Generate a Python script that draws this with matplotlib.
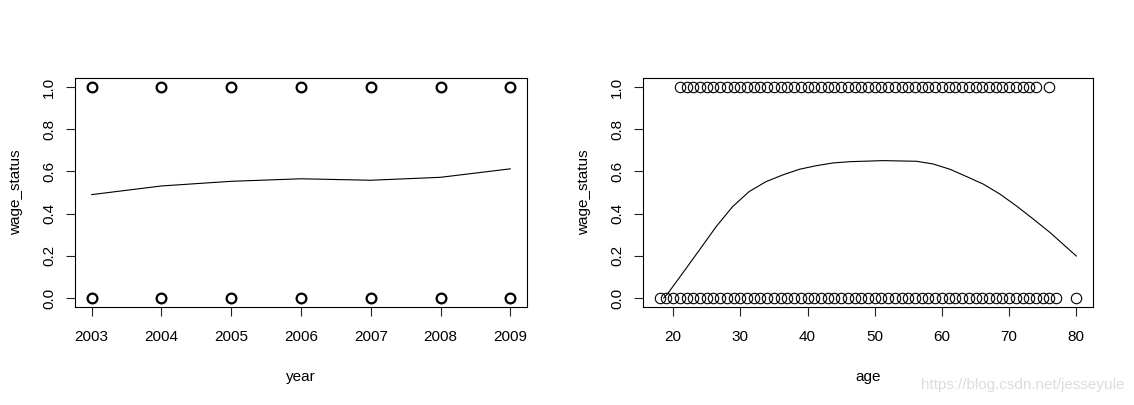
import numpy as np
import matplotlib.pyplot as plt

plt.rcParams['font.family'] = ['Liberation Sans', 'DejaVu Sans']

# left panel: year vs wage_status
years = [2003, 2004, 2005, 2006, 2007, 2008, 2009]
year_fit = [0.490, 0.531, 0.553, 0.565, 0.558, 0.572, 0.612]

# right panel: age vs wage_status
ages_high = list(range(21, 75)) + [76]
ages_low = list(range(18, 78)) + [80]
age_grid = [18.6, 19.15, 21.4, 23.9, 26.4, 28.85, 31.3, 33.8, 36.3, 38.8, 41.3, 43.8, 46.3,
            51.2, 56.2, 58.7, 61.2, 63.7, 66.2, 68.7, 71.1, 73.6, 76.1, 80.0]
age_fit = [0.0, 0.019, 0.117, 0.227, 0.338, 0.433, 0.504, 0.551, 0.583, 0.610, 0.627, 0.640, 0.646,
           0.651, 0.648, 0.635, 0.610, 0.575, 0.539, 0.491, 0.436, 0.374, 0.310, 0.199]

fig = plt.figure(figsize=(11.34, 4.05), dpi=100)
ax1 = fig.add_axes([75/1134, 1-306.5/405, 452/1134, 228/405])
ax2 = fig.add_axes([643/1134, 1-306.5/405, 450/1134, 228/405])

def style(ax):
    for s in ax.spines.values():
        s.set_linewidth(0.8)
    ax.tick_params(length=6.5, width=0.8, labelsize=11, color='#222222')
    ax.tick_params(axis='x', pad=10.5)
    ax.tick_params(axis='y', pad=7, labelrotation=90)
    for t in ax.get_yticklabels():
        t.set_va('center')
    ax.set_ylim(-0.04, 1.04)
    ax.set_yticks([0.0, 0.2, 0.4, 0.6, 0.8, 1.0])
    ax.set_yticklabels(['0.0', '0.2', '0.4', '0.6', '0.8', '1.0'])
    ax.set_ylabel('wage_status', fontsize=11, labelpad=14)

ax1.plot(years, [1]*len(years), 'o', mfc='none', mec='black', ms=7, mew=1.6, ls='none')
ax1.plot(years, [0]*len(years), 'o', mfc='none', mec='black', ms=7, mew=1.6, ls='none')
ax1.plot(years, year_fit, color='black', lw=0.8)
ax1.set_xlim(2002.76, 2009.24)
ax1.set_xticks(years)
ax1.set_xlabel('year', fontsize=11, labelpad=18.5)
style(ax1)

ax2.plot(ages_high, [1]*len(ages_high), 'o', mfc='none', mec='black', ms=7.5, mew=0.8, ls='none')
ax2.plot(ages_low, [0]*len(ages_low), 'o', mfc='none', mec='black', ms=7.5, mew=0.8, ls='none')
ax2.plot(age_grid, age_fit, color='black', lw=0.8)
ax2.set_xlim(15.52, 82.48)
ax2.set_xticks([20, 30, 40, 50, 60, 70, 80])
ax2.set_xlabel('age', fontsize=11, labelpad=18.5)
style(ax2)

fig.text(1124/1134, 1-385/405, 'https://blog.csdn.net/jesseyule', ha='right', va='center',
         fontsize=11, color='#dcdcdc')

fig.savefig('out.png', dpi=100)
